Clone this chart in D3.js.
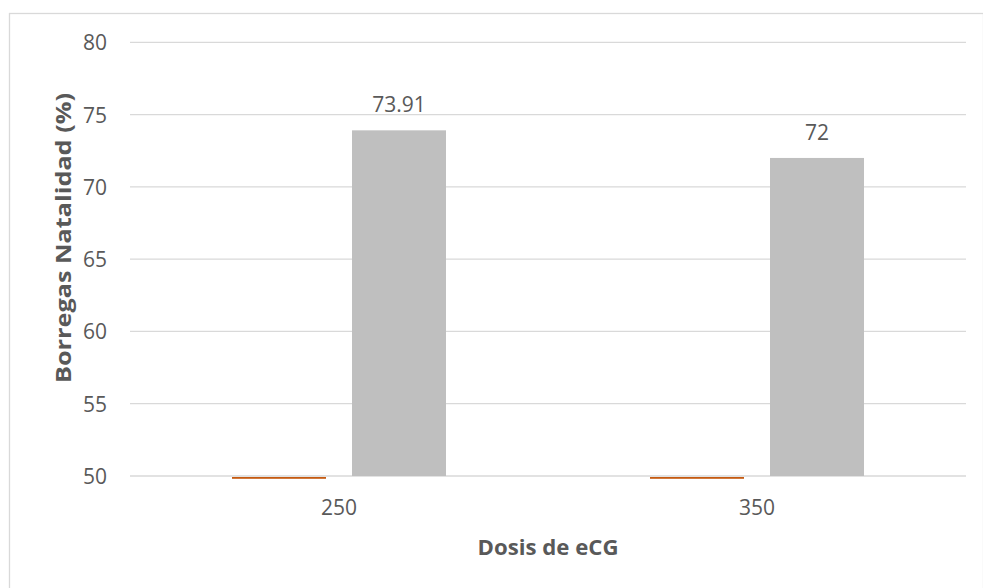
<!DOCTYPE html>
<html>
<head>
<meta charset="utf-8">
<script src="https://cdn.jsdelivr.net/npm/d3@7"></script>
<style>
  html, body { margin: 0; padding: 0; background: #fff; }
  svg { display: block; }
  text { font-family: "Open Sans", "Liberation Sans", sans-serif; fill: #595959; }
</style>
</head>
<body>
<svg id="chart" width="983" height="588"></svg>
<script>
const categories = ["250", "350"];
const seriesNames = ["Serie naranja", "Serie gris"];
const orangeValues = [50, 50];
const grayValues = [73.91, 72];
const grayLabels = ["73.91", "72"];
const yTicks = [50, 55, 60, 65, 70, 75, 80];

const svg = d3.select("#chart");
const plot = { left: 130, right: 966, top: 42.3, bottom: 476 };

// outer border
svg.append("rect")
  .attr("x", 9.5).attr("y", 13.5)
  .attr("width", 974).attr("height", 600)
  .attr("fill", "none").attr("stroke", "#d9d9d9").attr("stroke-width", 1.3);

const y = d3.scaleLinear().domain([50, 80]).range([plot.bottom, plot.top]);
const x0 = d3.scaleBand().domain(categories).range([plot.left, plot.right]).padding(0);
const cw = x0.bandwidth();
const x1 = d3.scaleBand().domain(seriesNames)
  .range([cw * 0.244, cw * 0.756]).paddingInner(0.2167).paddingOuter(0);

// gridlines
svg.append("g").selectAll("line").data(yTicks).join("line")
  .attr("x1", plot.left).attr("x2", plot.right)
  .attr("y1", d => y(d)).attr("y2", d => y(d))
  .attr("stroke", "#d9d9d9").attr("stroke-width", 1.3);

// y tick labels
svg.append("g").selectAll("text").data(yTicks).join("text")
  .attr("x", 107).attr("y", d => y(d))
  .attr("text-anchor", "end").attr("dominant-baseline", "central")
  .attr("font-size", 21)
  .text(d => d);

// gray bars
const g = svg.append("g");
g.selectAll("rect.gray").data(categories).join("rect")
  .attr("class", "gray")
  .attr("x", (c) => x0(c) + x1(seriesNames[1]))
  .attr("width", x1.bandwidth())
  .attr("y", (c, i) => y(grayValues[i]))
  .attr("height", (c, i) => y(50) - y(grayValues[i]))
  .attr("fill", "#bfbfbf");

// orange bars (at axis minimum, drawn as thin line)
g.selectAll("rect.orange").data(categories).join("rect")
  .attr("class", "orange")
  .attr("x", (c) => x0(c) + x1(seriesNames[0]))
  .attr("width", x1.bandwidth())
  .attr("y", (c, i) => y(orangeValues[i]) + 1)
  .attr("height", (c, i) => Math.max(1.8, y(50) - y(orangeValues[i])))
  .attr("fill", "#c55a11");

// data labels
g.selectAll("text.lbl").data(categories).join("text")
  .attr("class", "lbl")
  .attr("x", (c) => x0(c) + x1(seriesNames[1]) + x1.bandwidth() / 2)
  .attr("y", (c, i) => y(grayValues[i]) - 26)
  .attr("text-anchor", "middle").attr("dominant-baseline", "central")
  .attr("font-size", 21)
  .text((c, i) => grayLabels[i]);

// x tick labels
svg.append("g").selectAll("text").data(categories).join("text")
  .attr("x", c => x0(c) + cw / 2).attr("y", 507)
  .attr("text-anchor", "middle").attr("dominant-baseline", "central")
  .attr("font-size", 21)
  .text(c => c);

// axis titles
svg.append("text")
  .attr("x", 548).attr("y", 546)
  .attr("text-anchor", "middle").attr("dominant-baseline", "central")
  .attr("font-size", 22).attr("font-weight", "bold")
  .attr("textLength", 141).attr("lengthAdjust", "spacingAndGlyphs")
  .text("Dosis de eCG");

svg.append("text")
  .attr("transform", "translate(62,238) rotate(-90)")
  .attr("text-anchor", "middle").attr("dominant-baseline", "central")
  .attr("font-size", 22).attr("font-weight", "bold")
  .attr("textLength", 290).attr("lengthAdjust", "spacingAndGlyphs")
  .text("Borregas Natalidad (%)");
</script>
</body>
</html>
